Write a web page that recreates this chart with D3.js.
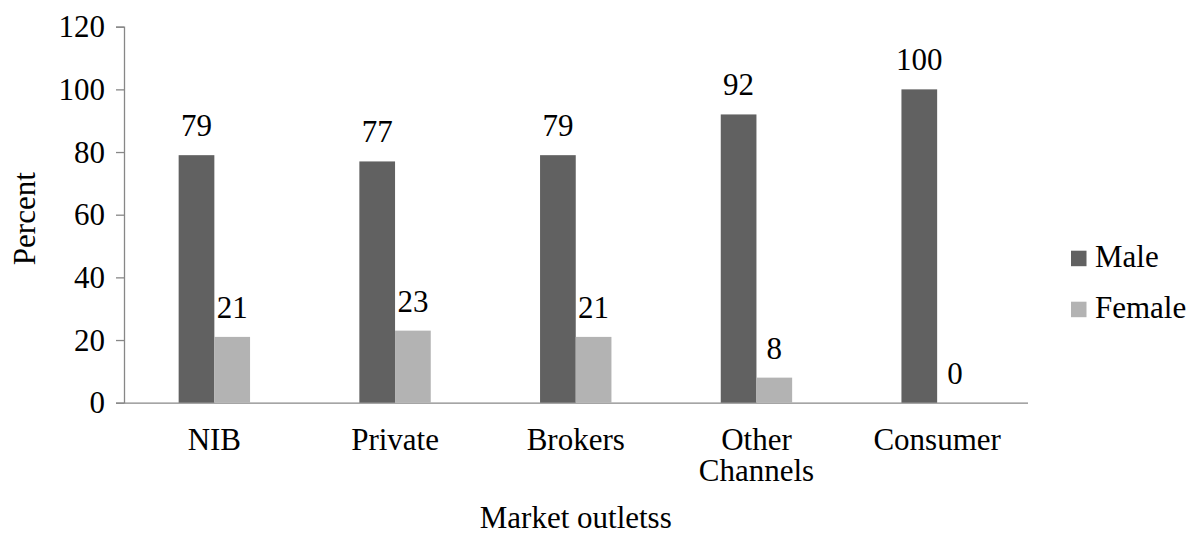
<!DOCTYPE html>
<html>
<head>
<meta charset="utf-8">
<script src="https://cdn.jsdelivr.net/npm/d3@7"></script>
</head>
<body style="margin:0">
<script>
// ** Data
const categories = ["NIB", "Private", "Brokers", "Other Channels", "Consumer"];
const seriesNames = ["Male", "Female"];
const maleValues = [79, 77, 79, 92, 100];
const femaleValues = [21, 23, 21, 8, 0];
const yTicks = [0, 20, 40, 60, 80, 100, 120];

const colors = { Male: "#616161", Female: "#b3b3b3" };
const axisColor = "#878787";
const labelSize = 31;
const serifFont = "'Times New Roman', 'Liberation Serif', Tinos, serif";

const plot = { left: 124, right: 1027.5, top: 26.7, bottom: 402.7 };

const rows = categories.map((c, i) => ({
  category: c,
  values: [
    { key: "Male", value: maleValues[i] },
    { key: "Female", value: femaleValues[i] }
  ]
}));

const svg = d3.select("body")
  .append("svg")
  .attr("width", 1189)
  .attr("height", 533);

// ** Scales
const x = d3.scaleBand()
  .domain(categories)
  .range([plot.left, plot.right]);

const barWidth = 35.7;
const xInner = d3.scaleBand()
  .domain(seriesNames)
  .range([0, barWidth * 2]);

const y = d3.scaleLinear()
  .domain([0, 120])
  .range([plot.bottom, plot.top]);

// ** Axes (lines only, labels drawn as plain text below)
const yAxis = svg.append("g")
  .attr("transform", `translate(${plot.left},0)`)
  .call(d3.axisLeft(y).tickValues(yTicks).tickSize(8).tickSizeOuter(8).tickFormat(""));
yAxis.select(".domain").attr("stroke", axisColor).attr("stroke-width", 1.3);
yAxis.selectAll(".tick line").attr("stroke", axisColor).attr("stroke-width", 1.3);

const xAxis = svg.append("g")
  .attr("transform", `translate(0,${plot.bottom})`)
  .call(d3.axisBottom(x).tickSize(0).tickSizeOuter(0).tickFormat(""));
xAxis.select(".domain").attr("stroke", axisColor).attr("stroke-width", 1.3);

// ** Bars
const groups = svg.append("g")
  .selectAll("g")
  .data(rows)
  .join("g")
  .attr("transform", d => `translate(${x(d.category) + x.bandwidth() / 2 - barWidth},0)`);

groups.selectAll("rect")
  .data(d => d.values)
  .join("rect")
  .attr("x", d => xInner(d.key))
  .attr("y", d => y(d.value))
  .attr("width", xInner.bandwidth())
  .attr("height", d => y(0) - y(d.value))
  .attr("fill", d => colors[d.key]);

// ** All texts in one layer
const textLayer = svg.append("g");
const labels = [];

rows.forEach(r => {
  r.values.forEach(v => {
    labels.push({
      text: String(v.value),
      x: x(r.category) + x.bandwidth() / 2 - barWidth + xInner(v.key) + xInner.bandwidth() / 2,
      y: y(v.value) - 19,
      anchor: "middle"
    });
  });
});

yTicks.forEach(t => {
  labels.push({ text: String(t), x: plot.left - 19, y: y(t) + 10.5, anchor: "end" });
});

categories.forEach(c => {
  const words = c === "Other Channels" ? c.split(" ") : [c];
  words.forEach((w, i) => {
    labels.push({ text: w, x: x(c) + x.bandwidth() / 2, y: 450 + i * 31, anchor: "middle" });
  });
});

labels.push({ text: "Market outletss", x: (plot.left + plot.right) / 2, y: 528, anchor: "middle" });

seriesNames.forEach((s, i) => {
  labels.push({ text: s, x: 1095, y: 266.7 + i * 51, anchor: "start" });
});

textLayer.selectAll("text")
  .data(labels)
  .join("text")
  .attr("x", d => d.x)
  .attr("y", d => d.y)
  .attr("text-anchor", d => d.anchor)
  .attr("font-family", serifFont)
  .attr("font-size", labelSize)
  .text(d => d.text);

textLayer.append("text")
  .attr("transform", `translate(35,${(plot.top + plot.bottom) / 2 + 4}) rotate(-90)`)
  .attr("text-anchor", "middle")
  .attr("font-family", serifFont)
  .attr("font-size", labelSize)
  .text("Percent");

// ** Legend swatches
svg.append("g")
  .selectAll("rect")
  .data(seriesNames)
  .join("rect")
  .attr("x", 1071)
  .attr("y", (d, i) => 250.7 + i * 51)
  .attr("width", 15.5)
  .attr("height", 15.5)
  .attr("fill", d => colors[d]);
</script>
</body>
</html>
